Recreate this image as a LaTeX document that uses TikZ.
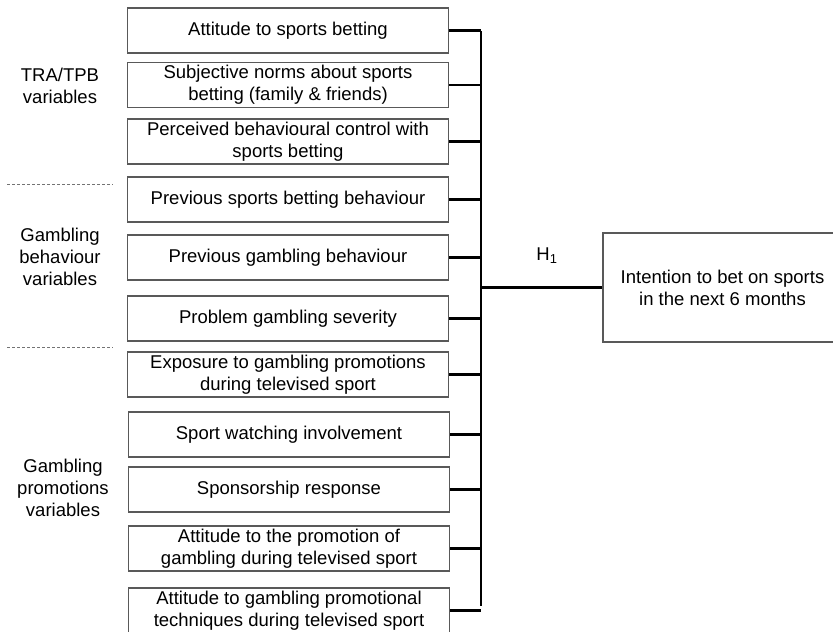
\documentclass[tikz,border=0pt]{standalone}
\usepackage{fontspec}
\setmainfont{Liberation Sans}
\usetikzlibrary{positioning, calc}

\tikzset{
    varbox/.style={draw=black!65, line width=1.2pt, minimum width=321pt, minimum height=45pt,
        align=center, inner sep=0pt, font=\fontsize{18.5}{22}\selectfont},
    grouplabel/.style={align=center, font=\fontsize{18.5}{22}\selectfont},
    link/.style={line width=2.3pt, black},
    sep/.style={densely dashed, black!55, line width=1pt}
}

\begin{document}
\begin{tikzpicture}[x=1pt, y=-1pt]
    \useasboundingbox (0,0) rectangle (833,632);

    % predictor boxes
    \node[varbox] (att)    at (288,30.5)  {Attitude to sports betting};
    \node[varbox] (norms)  at (288,85)    {Subjective norms about sports\\betting (family \& friends)};
    \node[varbox] (pbc)    at (288,141.5) {Perceived behavioural control with\\sports betting};
    \node[varbox] (prevsb) at (288,199.5) {Previous sports betting behaviour};
    \node[varbox] (prevgb) at (288,257.5) {Previous gambling behaviour};
    \node[varbox] (pgsi)   at (288,318.5) {Problem gambling severity};
    \node[varbox] (expo)   at (288,374.5) {Exposure to gambling promotions\\during televised sport};
    \node[varbox] (watch)  at (289,434.5) {Sport watching involvement};
    \node[varbox] (spons)  at (289,489.5) {Sponsorship response};
    \node[varbox] (attpro) at (289,548.5) {Attitude to the promotion of\\gambling during televised sport};
    \node[varbox] (atttec) at (289,610.5) {Attitude to gambling promotional\\techniques during televised sport};

    % outcome
    \node[varbox, minimum width=239pt, minimum height=109pt] (intent) at (722.5,287.5)
        {Intention to bet on sports\\in the next 6 months};

    % group labels
    \node[grouplabel] (tra)   at (60,86)  {TRA/TPB\\variables};
    \node[grouplabel] (gbeh)  at (60,257) {Gambling\\behaviour\\variables};
    \node[grouplabel] (gprom) at (63,488) {Gambling\\promotions\\variables};

    \draw[sep] (7,184) -- (113,184);
    \draw[sep] (7,347) -- (113,347);

    % spine
    \coordinate (top) at (481,31);
    \coordinate (bot) at (481,606);
    \draw[link] (top) -- (bot);
    \foreach \b in {att, norms, pbc, prevsb, prevgb, pgsi, expo, watch, spons, attpro, atttec}
        \draw[link] (\b.east) -- (\b.east -| top);

    \coordinate (hub) at (intent.west -| top);
    \draw[link] (hub) -- (intent.west);
    \node[font=\fontsize{18.5}{22}\selectfont] (h1) at (547,256) {H\textsubscript{1}};
\end{tikzpicture}
\end{document}
